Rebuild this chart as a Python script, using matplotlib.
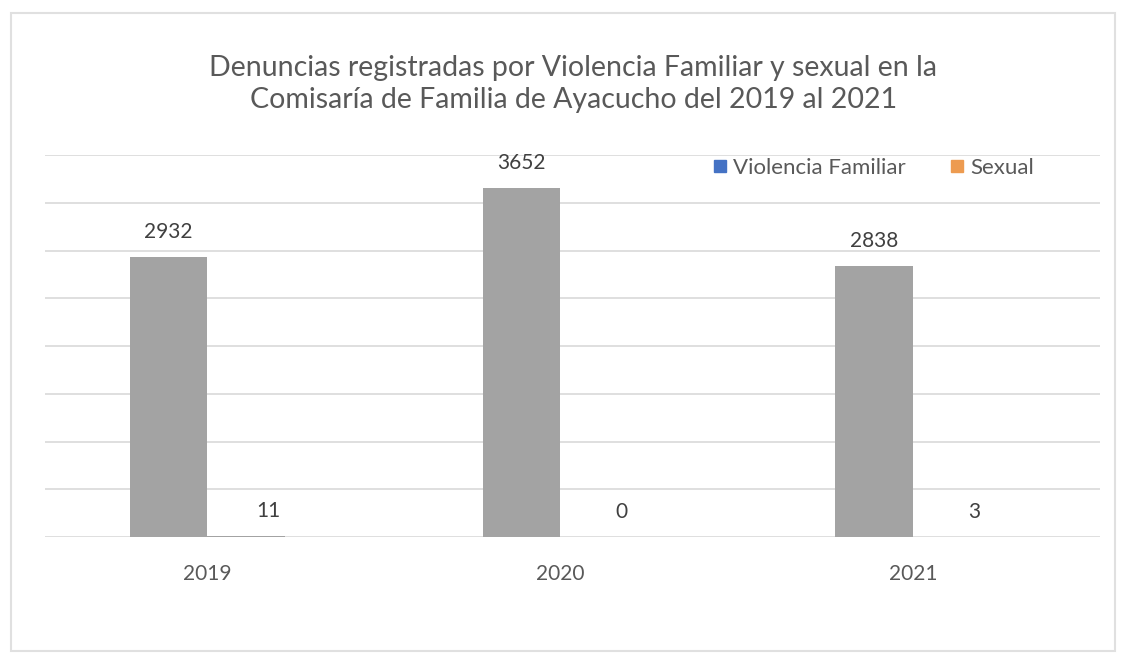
import matplotlib.pyplot as plt
from matplotlib.patches import Rectangle
import numpy as np

# datos
anios = ['2019', '2020', '2021']
violencia_familiar = [2932, 3652, 2838]
sexual = [11, 0, 3]

plt.rcParams['font.family'] = ['Lato', 'DejaVu Sans']

fig = plt.figure(figsize=(11.26, 6.64), dpi=100)
ax = fig.add_axes([0.04, 0.191, 0.937, 0.5756])

x = np.arange(len(anios))
w = 0.22
gris = '#a3a3a3'
b1 = ax.bar(x - w / 2, violencia_familiar, w, color=gris)
b2 = ax.bar(x + w / 2, sexual, w, color=gris)

for r, v in zip(b1, violencia_familiar):
    ax.annotate(str(v), (r.get_x() + r.get_width() / 2, r.get_height()),
                xytext=(0, 11), textcoords='offset points', ha='center', va='bottom',
                fontsize=15, color='#404040')
for r, v in zip(b2, sexual):
    ax.annotate(str(v), (r.get_x() + r.get_width() / 2, r.get_height()),
                xytext=(16, 11), textcoords='offset points', ha='center', va='bottom',
                fontsize=15, color='#404040')

ax.set_ylim(0, 4000)
ax.set_xlim(-0.46, 2.53)
ax.set_yticks(np.arange(0, 4001, 500))
ax.set_yticklabels([])
ax.tick_params(axis='y', length=0)
ax.set_xticks(x)
ax.set_xticklabels(anios, fontsize=15, color='#595959')
ax.tick_params(axis='x', length=0, pad=19)
ax.grid(axis='y', color='#d9d9d9', linewidth=1.2)
ax.set_axisbelow(True)
for s in ax.spines.values():
    s.set_visible(False)

h1 = plt.Line2D([], [], marker='s', color='#4472c4', linestyle='', markersize=8)
h2 = plt.Line2D([], [], marker='s', color='#ed9b50', linestyle='', markersize=8)
ax.legend([h1, h2], ['Violencia Familiar', 'Sexual'], loc='center right',
          bbox_to_anchor=(0.948, 0.966), ncol=2, frameon=False, fontsize=16,
          handlelength=0.6, handletextpad=0.3, columnspacing=2.0, borderpad=0,
          labelcolor='#595959')

fig.text(0.509, 0.874, 'Denuncias registradas por Violencia Familiar y sexual en la\n'
         'Comisaría de Familia de Ayacucho del 2019 al 2021',
         ha='center', va='center', fontsize=20.5, color='#595959', linespacing=1.3)

fig.patches.append(Rectangle((0.01, 0.02), 0.98, 0.96, transform=fig.transFigure,
                             fill=False, edgecolor='#e0e0e0', linewidth=1.5))

fig.savefig('out.png', dpi=100)
